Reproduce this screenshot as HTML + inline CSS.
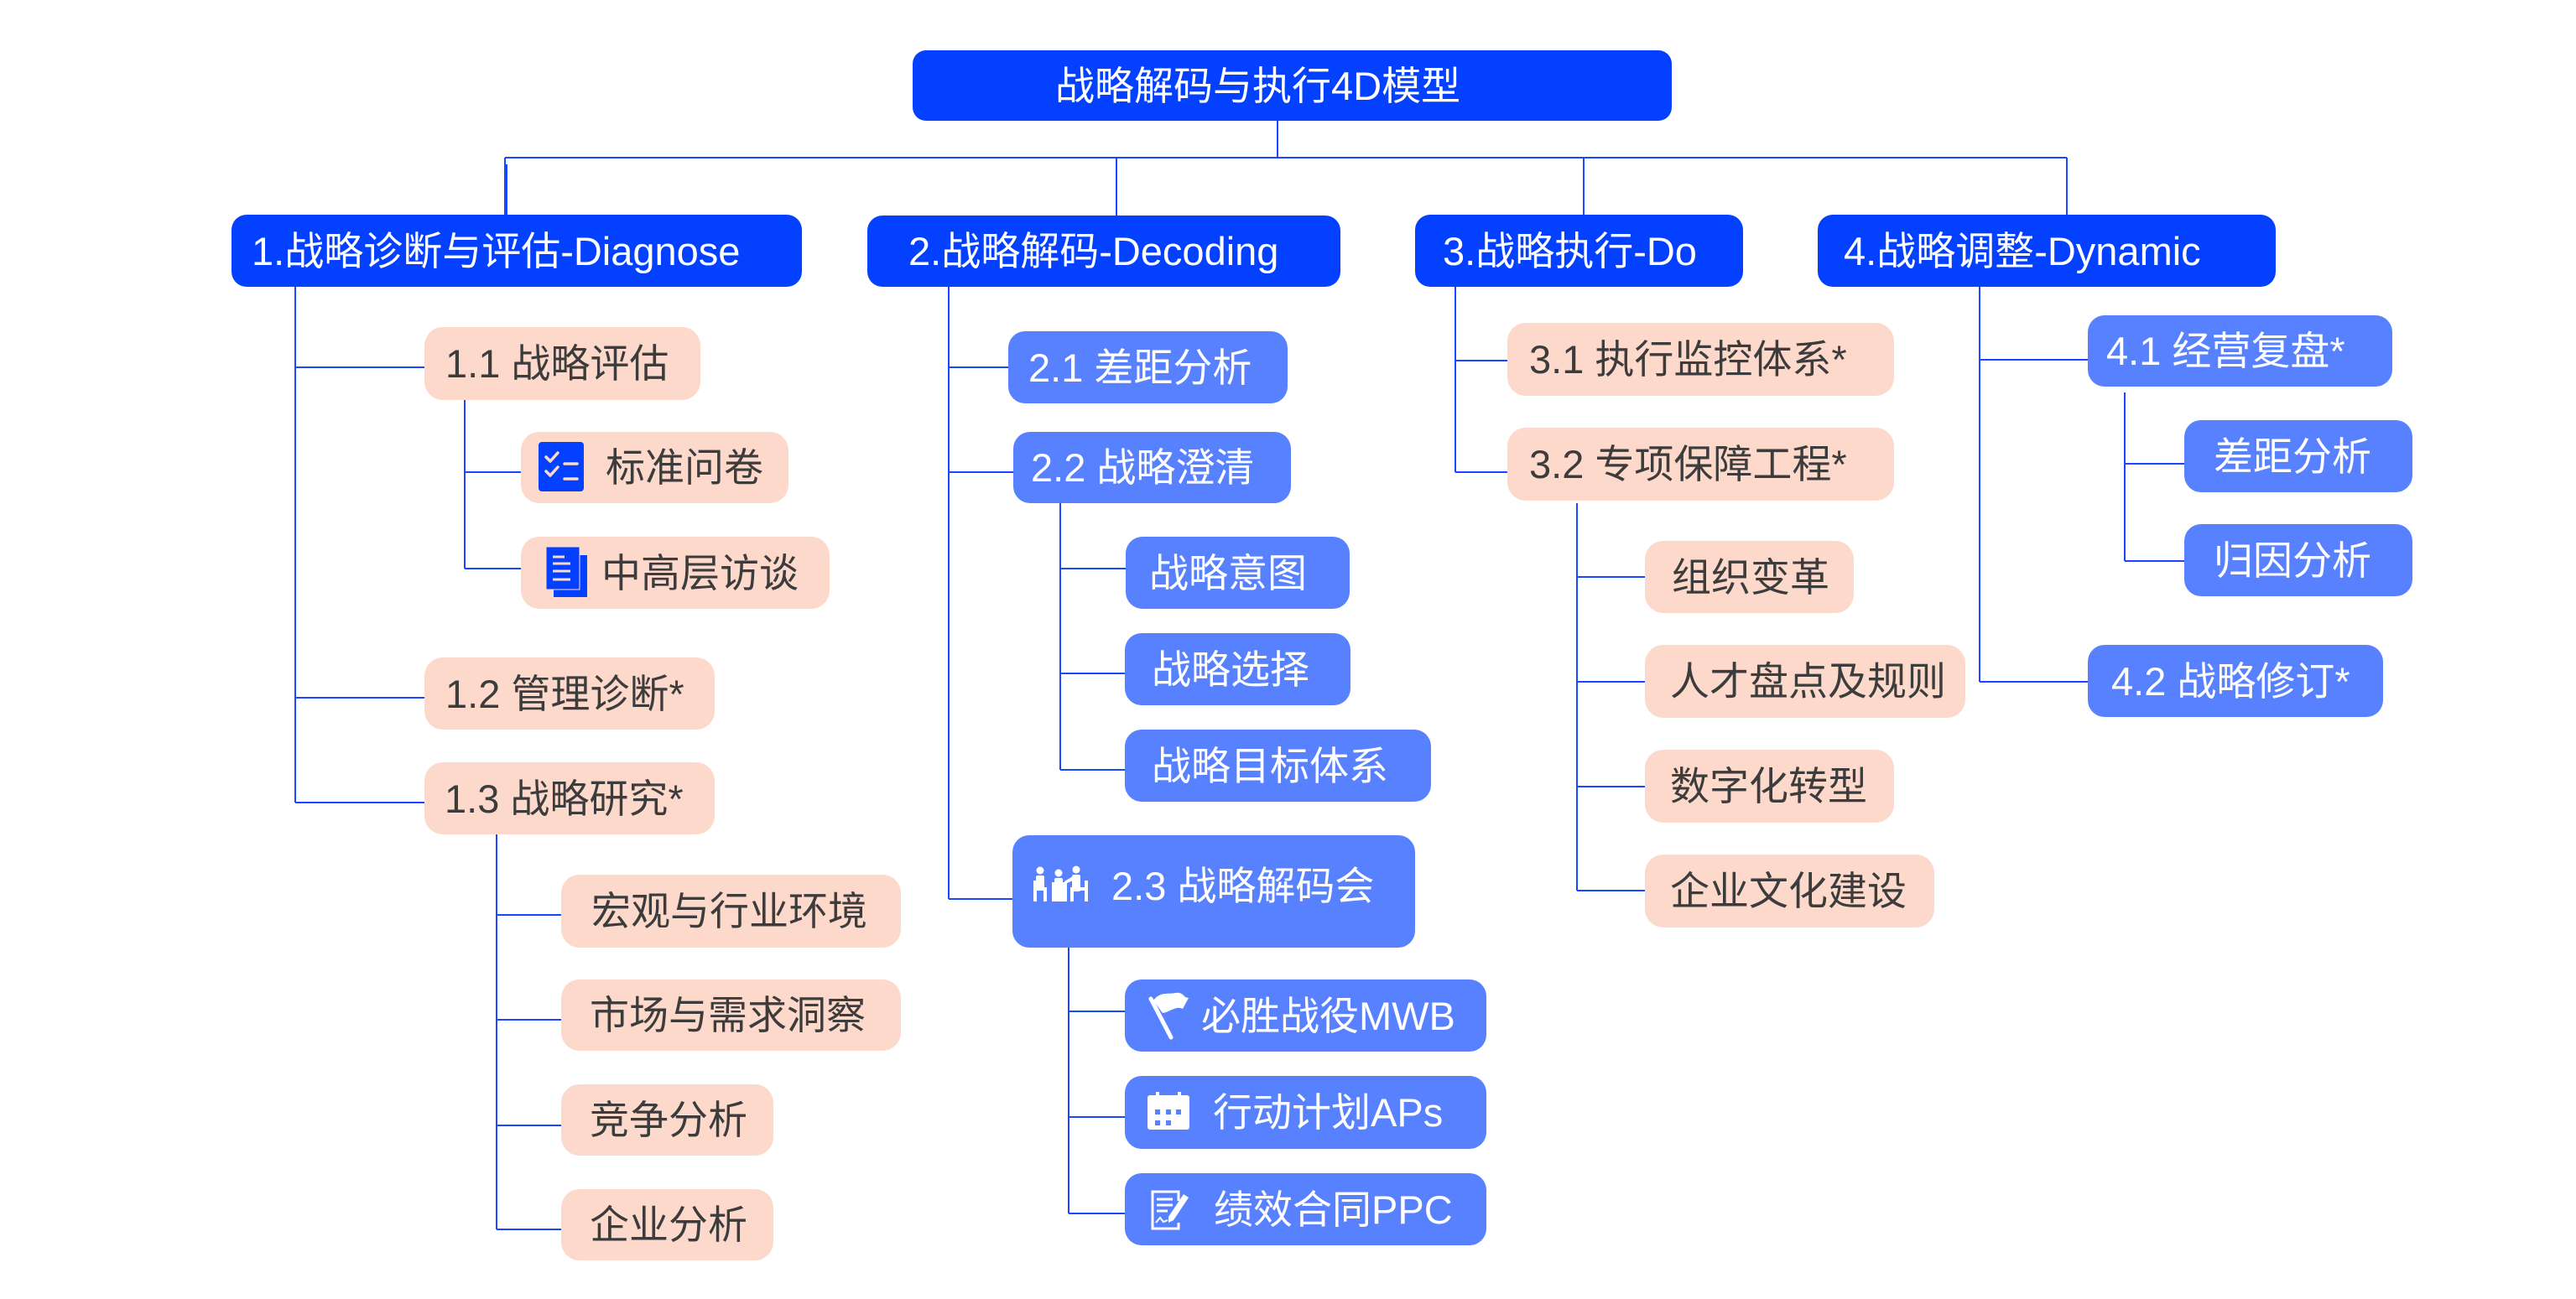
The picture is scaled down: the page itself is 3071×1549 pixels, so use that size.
<!DOCTYPE html>
<html>
<head>
<meta charset="utf-8">
<style>
  html,body{margin:0;padding:0;background:#ffffff;}
  body{width:3071px;height:1549px;position:relative;overflow:hidden;
       font-family:"Liberation Sans","Noto Sans CJK SC",sans-serif;}
  .n{position:absolute;box-sizing:border-box;display:flex;align-items:center;
     font-size:47px;line-height:1;white-space:nowrap;z-index:1;}
  .d{background:#0440FF;color:#fff;border-radius:18px;}
  .b{background:#5881FF;color:#fff;border-radius:20px;}
  .p{background:#FDD9CC;color:#3c3c3c;border-radius:22px;}
  svg{position:absolute;left:0;top:0;}
</style>
</head>
<body>
<svg width="3071" height="1549" style="z-index:0" shape-rendering="crispEdges">
  <g stroke="#1847FF" stroke-width="2" fill="none">
    <!-- top bar -->
    <line x1="1523" y1="144" x2="1523" y2="188"/>
    <line x1="602" y1="188" x2="2464" y2="188"/>
    <line x1="602" y1="188" x2="602" y2="256"/>
    <line x1="604" y1="196" x2="604" y2="256"/>
    <line x1="1331" y1="188" x2="1331" y2="257"/>
    <line x1="1888" y1="188" x2="1888" y2="256"/>
    <line x1="2464" y1="188" x2="2464" y2="256"/>
    <!-- node 1 -->
    <line x1="352" y1="342" x2="352" y2="957"/>
    <line x1="352" y1="438" x2="506" y2="438"/>
    <line x1="352" y1="832" x2="506" y2="832"/>
    <line x1="352" y1="957" x2="506" y2="957"/>
    <line x1="554" y1="477" x2="554" y2="678"/>
    <line x1="554" y1="563" x2="621" y2="563"/>
    <line x1="554" y1="678" x2="621" y2="678"/>
    <line x1="592" y1="995" x2="592" y2="1466"/>
    <line x1="592" y1="1091" x2="669" y2="1091"/>
    <line x1="592" y1="1216" x2="669" y2="1216"/>
    <line x1="592" y1="1342" x2="669" y2="1342"/>
    <line x1="592" y1="1466" x2="669" y2="1466"/>
    <!-- node 2 -->
    <line x1="1131" y1="342" x2="1131" y2="1072"/>
    <line x1="1131" y1="438" x2="1202" y2="438"/>
    <line x1="1131" y1="563" x2="1208" y2="563"/>
    <line x1="1131" y1="1072" x2="1207" y2="1072"/>
    <line x1="1264" y1="600" x2="1264" y2="918"/>
    <line x1="1264" y1="678" x2="1342" y2="678"/>
    <line x1="1264" y1="803" x2="1341" y2="803"/>
    <line x1="1264" y1="918" x2="1341" y2="918"/>
    <line x1="1274" y1="1130" x2="1274" y2="1447"/>
    <line x1="1274" y1="1206" x2="1341" y2="1206"/>
    <line x1="1274" y1="1332" x2="1341" y2="1332"/>
    <line x1="1274" y1="1447" x2="1341" y2="1447"/>
    <!-- node 3 -->
    <line x1="1735" y1="342" x2="1735" y2="563"/>
    <line x1="1735" y1="430" x2="1797" y2="430"/>
    <line x1="1735" y1="563" x2="1797" y2="563"/>
    <line x1="1880" y1="600" x2="1880" y2="1062"/>
    <line x1="1880" y1="688" x2="1961" y2="688"/>
    <line x1="1880" y1="813" x2="1961" y2="813"/>
    <line x1="1880" y1="938" x2="1961" y2="938"/>
    <line x1="1880" y1="1062" x2="1961" y2="1062"/>
    <!-- node 4 -->
    <line x1="2360" y1="342" x2="2360" y2="813"/>
    <line x1="2360" y1="429" x2="2489" y2="429"/>
    <line x1="2360" y1="813" x2="2489" y2="813"/>
    <line x1="2533" y1="468" x2="2533" y2="669"/>
    <line x1="2533" y1="553" x2="2604" y2="553"/>
    <line x1="2533" y1="669" x2="2604" y2="669"/>
  </g>
</svg>

<!-- root -->
<div class="n d" style="left:1088px;top:60px;width:905px;height:84px;padding-left:170px;border-radius:16px;">战略解码与执行4D模型</div>

<!-- level 1 -->
<div class="n d" style="left:276px;top:256px;width:680px;height:86px;padding-left:24px;">1.战略诊断与评估-Diagnose</div>
<div class="n d" style="left:1034px;top:257px;width:564px;height:85px;padding-left:49px;">2.战略解码-Decoding</div>
<div class="n d" style="left:1687px;top:256px;width:391px;height:86px;padding-left:33px;">3.战略执行-Do</div>
<div class="n d" style="left:2167px;top:256px;width:546px;height:86px;padding-left:31px;">4.战略调整-Dynamic</div>

<!-- branch 1 -->
<div class="n p" style="left:506px;top:390px;width:329px;height:87px;padding-left:25px;">1.1 战略评估</div>
<div class="n p" style="left:621px;top:515px;width:319px;height:85px;padding-left:101px;">标准问卷</div>
<div class="n p" style="left:621px;top:640px;width:368px;height:86px;padding-left:96px;">中高层访谈</div>
<div class="n p" style="left:506px;top:784px;width:346px;height:86px;padding-left:25px;">1.2 管理诊断*</div>
<div class="n p" style="left:506px;top:909px;width:346px;height:86px;padding-left:24px;">1.3 战略研究*</div>
<div class="n p" style="left:669px;top:1043px;width:405px;height:87px;padding-left:36px;">宏观与行业环境</div>
<div class="n p" style="left:669px;top:1168px;width:405px;height:85px;padding-left:34px;">市场与需求洞察</div>
<div class="n p" style="left:669px;top:1293px;width:253px;height:85px;padding-left:34px;">竞争分析</div>
<div class="n p" style="left:669px;top:1418px;width:253px;height:85px;padding-left:34px;">企业分析</div>

<!-- branch 2 -->
<div class="n b" style="left:1202px;top:395px;width:333px;height:86px;padding-left:24px;">2.1 差距分析</div>
<div class="n b" style="left:1208px;top:515px;width:331px;height:85px;padding-left:21px;">2.2 战略澄清</div>
<div class="n b" style="left:1342px;top:640px;width:267px;height:86px;padding-left:28px;">战略意图</div>
<div class="n b" style="left:1341px;top:755px;width:269px;height:86px;padding-left:32px;">战略选择</div>
<div class="n b" style="left:1341px;top:870px;width:365px;height:86px;padding-left:32px;">战略目标体系</div>
<div class="n b" style="left:1207px;top:996px;width:480px;height:134px;padding-left:118px;align-items:flex-start;padding-top:37px;">2.3 战略解码会</div>
<div class="n b" style="left:1341px;top:1168px;width:431px;height:86px;padding-left:91px;">必胜战役MWB</div>
<div class="n b" style="left:1341px;top:1283px;width:431px;height:87px;padding-left:105px;">行动计划APs</div>
<div class="n b" style="left:1341px;top:1399px;width:431px;height:86px;padding-left:106px;">绩效合同PPC</div>

<!-- branch 3 -->
<div class="n p" style="left:1797px;top:385px;width:461px;height:87px;padding-left:26px;">3.1 执行监控体系*</div>
<div class="n p" style="left:1797px;top:510px;width:461px;height:87px;padding-left:26px;">3.2 专项保障工程*</div>
<div class="n p" style="left:1961px;top:645px;width:249px;height:86px;padding-left:32px;">组织变革</div>
<div class="n p" style="left:1961px;top:769px;width:382px;height:87px;padding-left:30px;">人才盘点及规则</div>
<div class="n p" style="left:1961px;top:894px;width:297px;height:87px;padding-left:30px;">数字化转型</div>
<div class="n p" style="left:1961px;top:1019px;width:345px;height:87px;padding-left:30px;">企业文化建设</div>

<!-- branch 4 -->
<div class="n b" style="left:2489px;top:376px;width:363px;height:85px;padding-left:22px;">4.1 经营复盘*</div>
<div class="n b" style="left:2604px;top:501px;width:272px;height:86px;padding-left:35px;">差距分析</div>
<div class="n b" style="left:2604px;top:625px;width:272px;height:86px;padding-left:35px;">归因分析</div>
<div class="n b" style="left:2489px;top:769px;width:352px;height:86px;padding-left:28px;">4.2 战略修订*</div>

<!-- icons -->
<svg width="3071" height="1549" style="z-index:2;pointer-events:none">
  <!-- checklist -->
  <rect x="642" y="527" width="54" height="59" rx="4" fill="#0440FF"/>
  <g stroke="#FDD9CC" stroke-width="3.5" fill="none" stroke-linecap="round" stroke-linejoin="round">
    <polyline points="651,545 656,550 665,540"/>
    <polyline points="651,562 656,567 665,557"/>
    <line x1="673" y1="553" x2="688" y2="553"/>
    <line x1="673" y1="571" x2="688" y2="571"/>
  </g>
  <!-- documents -->
  <rect x="660" y="662" width="40" height="50" fill="#0440FF"/>
  <rect x="651" y="652" width="40" height="51" fill="#0440FF" stroke="#FDD9CC" stroke-width="1"/>
  <g stroke="#FDD9CC" stroke-width="3">
    <line x1="659" y1="664" x2="673" y2="664"/>
    <line x1="659" y1="672" x2="680" y2="672"/>
    <line x1="659" y1="681" x2="680" y2="681"/>
    <line x1="659" y1="691" x2="680" y2="691"/>
  </g>
  <!-- meeting -->
  <g fill="#fff">
    <circle cx="1240" cy="1038" r="4.5"/>
    <rect x="1235" y="1044" width="10" height="18" rx="2"/>
    <rect x="1232" y="1050" width="4" height="25"/>
    <rect x="1232" y="1058" width="16" height="4"/>
    <rect x="1244" y="1058" width="4" height="17"/>
    <circle cx="1262" cy="1041" r="4.5"/>
    <rect x="1257" y="1047" width="10" height="8" rx="2"/>
    <rect x="1254" y="1052" width="18" height="23"/>
    <circle cx="1283" cy="1037" r="4.5"/>
    <rect x="1278" y="1043" width="10" height="20" rx="2"/>
    <polygon points="1279,1045 1269,1051 1270,1054 1281,1049"/>
    <rect x="1293" y="1050" width="4" height="25"/>
    <rect x="1276" y="1058" width="21" height="4"/>
    <rect x="1276" y="1058" width="4" height="17"/>
  </g>
  <!-- flag -->
  <g fill="#fff">
    <line x1="1372" y1="1191" x2="1396" y2="1237" stroke="#fff" stroke-width="5" stroke-linecap="round"/>
    <path d="M1375,1193 C1383,1182 1393,1186 1401,1184 C1406,1183 1410,1185 1413,1189 L1417,1190 L1410,1203 C1402,1199 1394,1207 1386,1208 Z"/>
  </g>
  <!-- calendar -->
  <rect x="1368" y="1306" width="50" height="41" rx="3" fill="#fff"/>
  <rect x="1378" y="1302" width="4" height="8" fill="#fff"/>
  <rect x="1404" y="1302" width="4" height="8" fill="#fff"/>
  <g fill="#5881FF">
    <rect x="1377" y="1323" width="6" height="6"/>
    <rect x="1390" y="1323" width="6" height="6"/>
    <rect x="1402" y="1323" width="6" height="6"/>
    <rect x="1377" y="1336" width="6" height="6"/>
    <rect x="1390" y="1336" width="6" height="6"/>
  </g>
  <!-- contract -->
  <g stroke="#fff" fill="none" stroke-width="3">
    <polyline points="1405,1432 1405,1421 1374,1421 1374,1465 1405,1465 1405,1458"/>
    <line x1="1379" y1="1430" x2="1398" y2="1430"/>
    <line x1="1379" y1="1437" x2="1398" y2="1437"/>
    <line x1="1379" y1="1444" x2="1392" y2="1444"/>
    <polyline points="1378,1458 1383,1452 1387,1457 1392,1455" stroke-width="2"/>
  </g>
  <polygon points="1411,1424 1417,1428 1399,1455 1393,1458 1393,1451" fill="#fff"/>
</svg>
</body>
</html>
